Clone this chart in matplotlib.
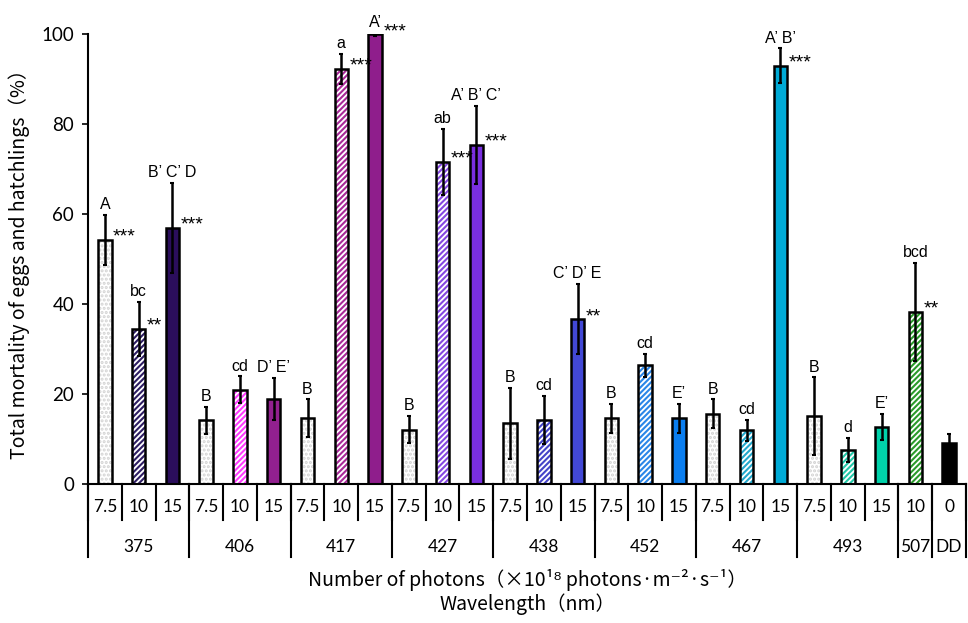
import matplotlib.pyplot as plt
import numpy as np

# values
groups = ['375'] * 3 + ['406'] * 3 + ['417'] * 3 + ['427'] * 3 + ['438'] * 3 + \
         ['452'] * 3 + ['467'] * 3 + ['493'] * 3 + ['507', 'DD']
doses = ['7.5', '10', '15'] * 8 + ['10', '0']
mortality = [54.2, 34.5, 57.0, 14.2, 20.9, 18.9, 14.6, 92.2, 99.9, 12.1, 71.6, 75.3, 13.5,
             14.2, 36.6, 14.6, 26.4, 14.6, 15.6, 11.9, 93.0, 15.1, 7.6, 12.6, 38.3, 9.2]
errors = [5.6, 6.0, 10.0, 3.0, 3.0, 4.7, 4.2, 3.3, 0.3, 3.0, 7.3, 8.7, 7.9,
          5.3, 7.8, 3.2, 2.6, 3.2, 3.2, 2.3, 3.8, 8.6, 2.6, 2.9, 10.9, 1.9]
letters = ['A', 'bc', 'B’ C’ D', 'B', 'cd', 'D’ E’', 'B', 'a', 'A’', 'B', 'ab', 'A’ B’ C’', 'B',
           'cd', 'C’ D’ E', 'B', 'cd', 'E’', 'B', 'cd', 'A’ B’', 'B', 'd', 'E’', 'bcd', '']
stars = ['***', '**', '***', '', '', '', '', '***', '***', '', '***', '***', '',
         '', '**', '', '', '', '', '', '***', '', '', '', '**', '']
colors = ['#d2d2d2', '#2e1d63', '#2b0e5c', '#d2d2d2', '#ff3cff', '#92208f', '#d2d2d2', '#a82a98',
          '#8f1e8c', '#d2d2d2', '#8548e0', '#7a2fe0', '#d2d2d2', '#4444c8', '#4248d6', '#d2d2d2',
          '#2a86e8', '#0a7ef0', '#d2d2d2', '#22a8cc', '#00aad6', '#d2d2d2', '#22c8a8', '#00d2aa',
          '#2a9a2a', '#000000']

plt.rcParams['hatch.linewidth'] = 1.5
tick_font = ['Lato', 'DejaVu Sans']
jp_font = ['Noto Sans CJK JP', 'DejaVu Sans']

fig = plt.figure(figsize=(9.68, 6.23), dpi=100)
ax = fig.add_axes([88 / 968, 139 / 623, 878 / 968, 450 / 623])

x = np.arange(len(mortality))
w = 0.4
for i in x:
    if doses[i] == '7.5':
        ax.bar(i, mortality[i], w, color='white', edgecolor=colors[i], hatch='....', linewidth=0)
    elif doses[i] == '10' and groups[i] != 'DD':
        ax.bar(i, mortality[i], w, color='white', edgecolor=colors[i], hatch='//////', linewidth=0)
    else:
        ax.bar(i, mortality[i], w, color=colors[i], linewidth=0)
ax.bar(x, mortality, w, fill=False, edgecolor='black', linewidth=1.8)
ax.errorbar(x, mortality, yerr=errors, fmt='none', ecolor='black', elinewidth=1.8, capsize=1.5, capthick=1.5)

for i in x:
    top = mortality[i] + errors[i]
    if letters[i]:
        ax.annotate(letters[i], (i, top), xytext=(0, 2), textcoords='offset points',
                    ha='center', va='bottom', fontsize=11.5, family=['Liberation Sans'],
                    annotation_clip=False)
    if stars[i]:
        ax.annotate(stars[i], (i + w / 2, mortality[i]), xytext=(1, 2), textcoords='offset points',
                    ha='left', va='center', fontsize=14, family=['Liberation Sans'],
                    annotation_clip=False)

ax.set_xlim(-0.5, len(x) - 0.5)
ax.set_ylim(0, 100)
ax.set_yticks([0, 20, 40, 60, 80, 100])
ax.tick_params(axis='y', direction='out', length=4, width=1.2, labelsize=13.5, pad=6)
for lab in ax.get_yticklabels():
    lab.set_family(tick_font)
ax.set_xticks([])
ax.spines['top'].set_visible(False)
ax.spines['right'].set_visible(False)
ax.spines['left'].set_linewidth(1.5)
ax.spines['bottom'].set_linewidth(1.5)

# table under the x axis
tr = ax.get_xaxis_transform()
for i in range(len(x) + 1):
    ax.plot([i - 0.5, i - 0.5], [0, -0.08], color='black', lw=1.5, transform=tr, clip_on=False)
    if i < len(x):
        ax.text(i, -0.052, doses[i], ha='center', va='center', fontsize=12.5,
                family=tick_font, transform=tr)
edges = [-0.5]
names = []
for i, g in enumerate(groups):
    if not names or names[-1] != g:
        names.append(g)
        if i > 0:
            edges.append(i - 0.5)
edges.append(len(x) - 0.5)
for e in edges:
    ax.plot([e, e], [0, -0.163], color='black', lw=1.5, transform=tr, clip_on=False)
for k, g in enumerate(names):
    ax.text((edges[k] + edges[k + 1]) / 2, -0.14, g, ha='center', va='center',
            fontsize=12.5, family=tick_font, transform=tr)

ax.text(0.5, -0.213, 'Number of photons（×10¹⁸ photons·m⁻²·s⁻¹）', ha='center', va='center',
        fontsize=14, family=jp_font, transform=ax.transAxes)
ax.text(0.5, -0.266, 'Wavelength（nm）', ha='center', va='center',
        fontsize=14, family=jp_font, transform=ax.transAxes)
ax.set_ylabel('Total mortality of eggs and hatchlings（%）', fontsize=14, family=jp_font, labelpad=8)

fig.savefig('out.png', dpi=100)
